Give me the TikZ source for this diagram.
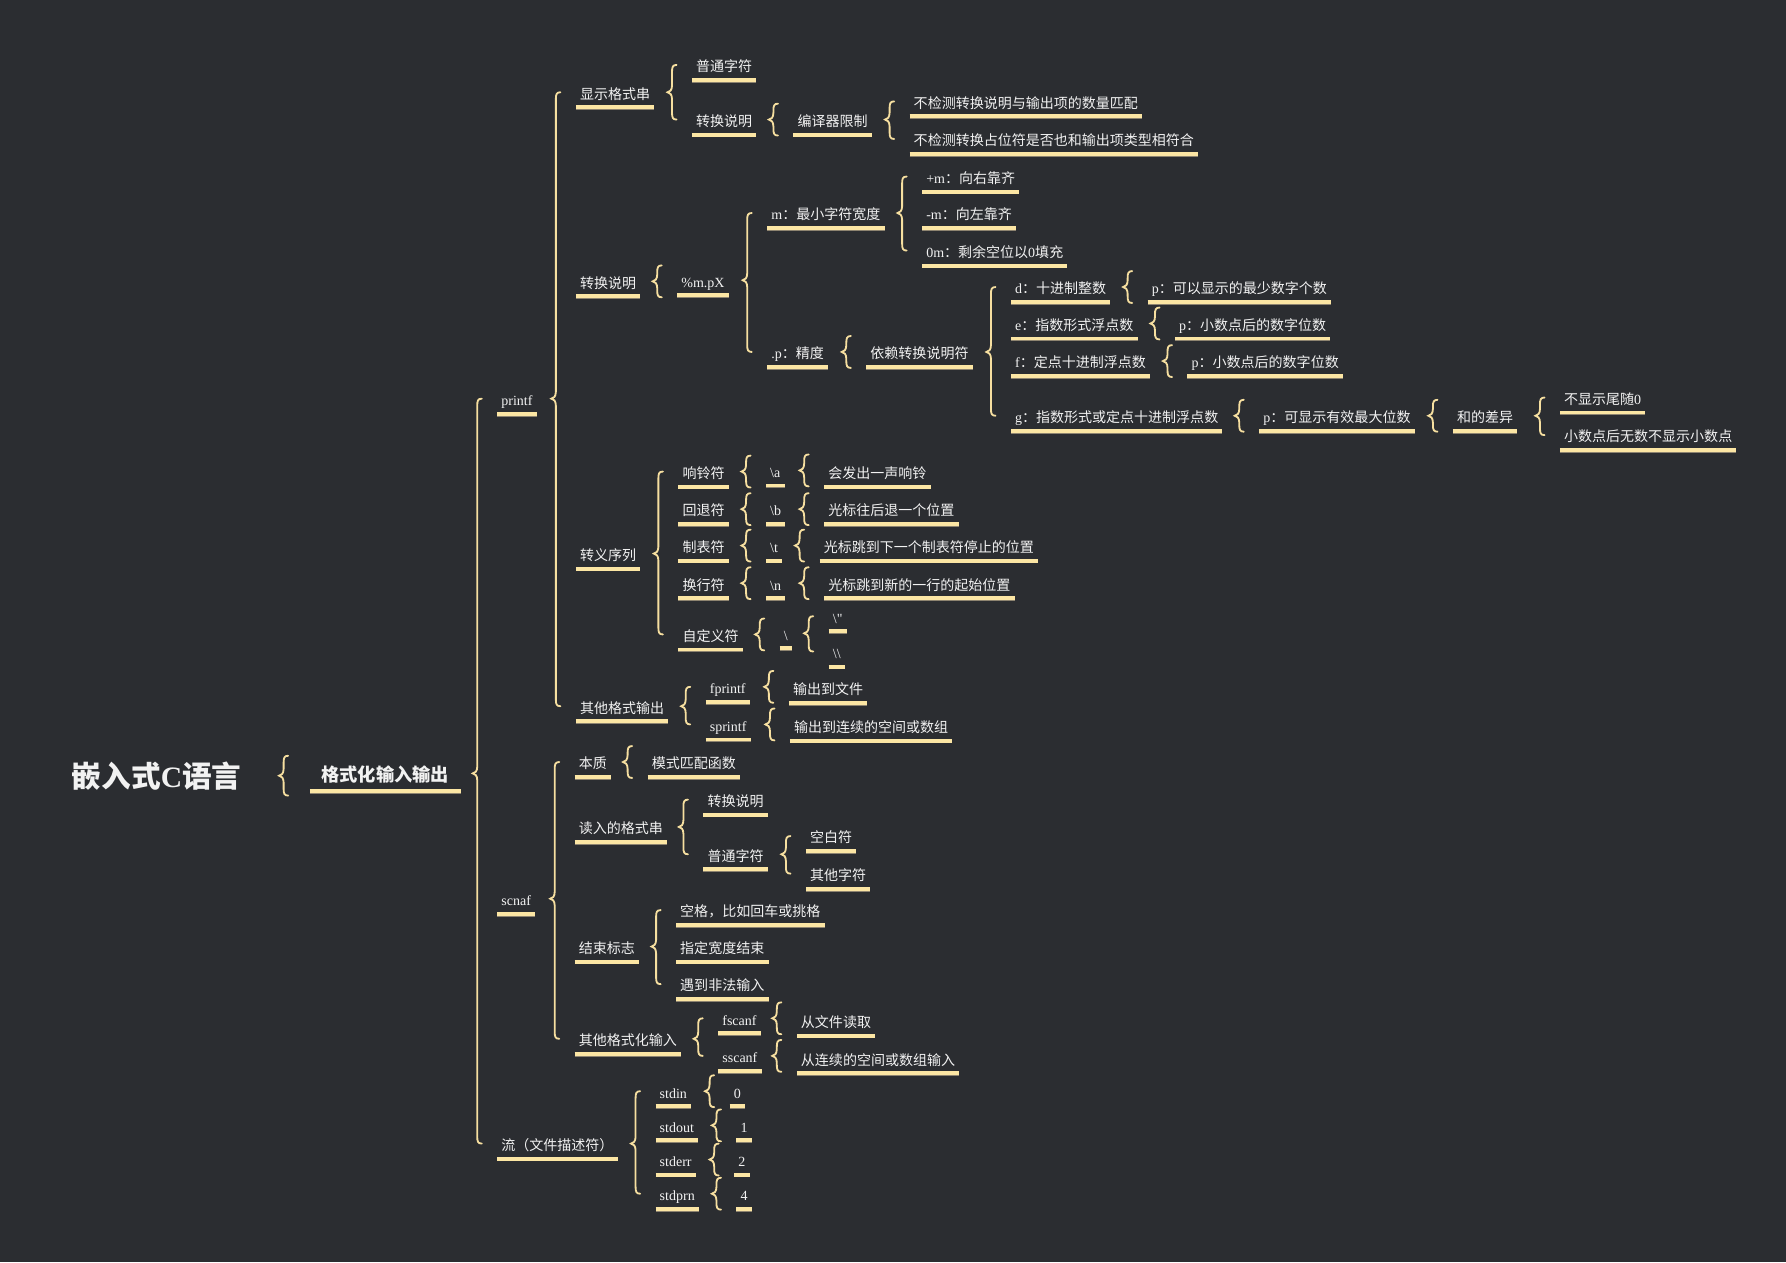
\documentclass[tikz,border=0pt]{standalone}
\usepackage{fontspec}
\setmainfont{Liberation Serif}[Ligatures=TeXOff]
\newfontfamily\cjk{Noto Sans CJK SC}
\newcommand\zh[1]{{\cjk #1}}
\usetikzlibrary{calc}
\definecolor{bgc}{HTML}{2B2D31}
\definecolor{txtc}{HTML}{F2F2F2}
\definecolor{ulc}{HTML}{FCE6A4}
\definecolor{ulsh}{HTML}{8E8470}
\definecolor{brcc}{HTML}{F6DFA0}
\tikzset{
 nd/.style={inner sep=0pt, text height=12pt, text depth=0pt, anchor=west, text=txtc, font=\fontsize{12.3}{14}\selectfont},
 uline/.style={draw=ulc, line width=3.4pt},
 ushadow/.style={draw=ulsh, line width=1pt},
 brace/.style={draw=brcc, line width=1.6pt, line cap=round},
}
\newcommand\ul[2][3.5pt]{%
 \draw[ushadow] ([xshift=-#1,yshift=-9pt]#2.south west) -- ([xshift=#1,yshift=-9pt]#2.south east);
 \draw[uline] ([xshift=-#1,yshift=-7pt]#2.south west) -- ([xshift=#1,yshift=-7pt]#2.south east);}
\newcommand\N[3]{\node[nd] (#1) at (#2) {#3}; \ul{#1}}
\newcommand\bpath[4]{(#1+8pt,#3) .. controls (#1+4.5pt,#3) and (#1+4pt,#3-2pt) .. (#1+4pt,#3-6pt) -- (#1+4pt,#2+6pt) .. controls (#1+4pt,#2+2pt) and (#1+2pt,#2) .. (#1,#2) .. controls (#1+2pt,#2) and (#1+4pt,#2-2pt) .. (#1+4pt,#2-6pt) -- (#1+4pt,#4+6pt) .. controls (#1+4pt,#4+2pt) and (#1+4.5pt,#4) .. (#1+8pt,#4)}
\newcommand\brc[4][25pt]{\draw[brace] let \p1=(#2.center), \p2=(#3.west), \p3=(#4.west), \p4=(\x2-#1,\y1) in \bpath{\x4}{\y1}{\y2}{\y3};}
\newcommand\brs[3][25pt]{\draw[brace] let \p1=(#2.center), \p2=(#3.west), \p4=(\x2-#1,\y1) in \bpath{\x4}{\y1}{\y1+14pt}{\y1-14pt};}
\newcommand\brsg[4]{\draw[brace] let \p1=(#2.center), \p2=(#3.west), \p4=(\x2-#1,\y1) in \bpath{\x4}{\y1}{\y1+#4}{\y1-#4};}
\begin{document}
\begin{tikzpicture}[x=1pt,y=-1pt]
\fill[bgc] (0,0) rectangle (1568,1108);
\useasboundingbox (0,0) rectangle (1568,1108);
% root
\node[anchor=west, inner sep=0pt, text=txtc, font=\fontsize{26}{30}\selectfont\bfseries] (r) at (63,681) {\zh{嵌入式}C\zh{语言}};
\node[nd, text height=15pt, text depth=1pt, font=\fontsize{16}{18}\selectfont\bfseries] (L1) at (282,679) {\zh{格式化输入输出}};
\ul[10pt]{L1}
\brsg{37pt}{r}{L1}{17.5pt}
% level 2
\N{pf}{440,350}{printf}
\N{sc}{440,789}{scnaf}
\N{st}{440,1004}{\zh{流（文件描述符）}}
\brc{L1}{pf}{st}
% printf
\N{a1}{509,81}{\zh{显示格式串}}
\N{a2}{509,247}{\zh{转换说明}}
\N{a3}{509,486}{\zh{转义序列}}
\N{a4}{509,620}{\zh{其他格式输出}}
\brc{pf}{a1}{a4}
% a1
\N{a11}{611,57}{\zh{普通字符}}
\N{a12}{611,105}{\zh{转换说明}}
\brc{a1}{a11}{a12}
\N{a121}{700,105}{\zh{编译器限制}}
\brs{a12}{a121}
\N{a1211}{802,89}{\zh{不检测转换说明与输出项的数量匹配}}
\N{a1212}{802,122}{\zh{不检测转换占位符是否也和输出项类型相符合}}
\brc{a121}{a1211}{a1212}
% a2
\N{b1}{598,246}{\%m.pX}
\brs{a2}{b1}
\N{b11}{677,187}{m\zh{：最小字符宽度}}
\N{b12}{677,309}{.p\zh{：精度}}
\brc{b1}{b11}{b12}
\N{c1}{813,155}{+m\zh{：向右靠齐}}
\N{c2}{813,187}{-m\zh{：向左靠齐}}
\N{c3}{813,220}{0m\zh{：剩余空位以}0\zh{填充}}
\brc{b11}{c1}{c3}
\N{d0}{764,309}{\zh{依赖转换说明符}}
\brs{b12}{d0}
\N{e1}{891,252}{d\zh{：十进制整数}}
\N{e2}{891,284}{e\zh{：指数形式浮点数}}
\N{e3}{891,317}{f\zh{：定点十进制浮点数}}
\N{e4}{891,365}{g\zh{：指数形式或定点十进制浮点数}}
\brc{d0}{e1}{e4}
\N{f1}{1011,252}{p\zh{：可以显示的最少数字个数}}
\brs{e1}{f1}
\N{f2}{1035,284}{p\zh{：小数点后的数字位数}}
\brs{e2}{f2}
\N{f3}{1046,317}{p\zh{：小数点后的数字位数}}
\brs{e3}{f3}
\N{f4}{1109,365}{p\zh{：可显示有效最大位数}}
\brs{e4}{f4}
\N{g1}{1279,365}{\zh{和的差异}}
\brs{f4}{g1}
\N{h1}{1373,349}{\zh{不显示尾随}0}
\N{h2}{1373,382}{\zh{小数点后无数不显示小数点}}
\brc{g1}{h1}{h2}
% a3
\N{k1}{599,414}{\zh{响铃符}}
\N{k2}{599,447}{\zh{回退符}}
\N{k3}{599,479}{\zh{制表符}}
\N{k4}{599,512}{\zh{换行符}}
\N{k5}{599,557}{\zh{自定义符}}
\brc{a3}{k1}{k5}
\N{m1}{676,413}{\textbackslash a}
\brs{k1}{m1}
\N{m2}{676,447}{\textbackslash b}
\brs{k2}{m2}
\N{m3}{676,479}{\textbackslash t}
\brs{k3}{m3}
\N{m4}{676,512}{\textbackslash n}
\brs{k4}{m4}
\N{m5}{688,556}{\textbackslash}
\brs{k5}{m5}
\N{n1}{727,414}{\zh{会发出一声响铃}}
\brs{m1}{n1}
\N{n2}{727,447}{\zh{光标往后退一个位置}}
\brs{m2}{n2}
\N{n3}{723,479}{\zh{光标跳到下一个制表符停止的位置}}
\brs{m3}{n3}
\N{n4}{727,512}{\zh{光标跳到新的一行的起始位置}}
\brs{m4}{n4}
\N{q1}{731,541}{\textbackslash"}
\N{q2}{731,572}{\textbackslash\textbackslash}
\brc{m5}{q1}{q2}
% a4
\N{s1}{623,603}{fprintf}
\N{s2}{623,636}{sprintf}
\brc{a4}{s1}{s2}
\N{t1}{696,604}{\zh{输出到文件}}
\brs{s1}{t1}
\N{t2}{697,637}{\zh{输出到连续的空间或数组}}
\brs{s2}{t2}
% scnaf
\N{u1}{508,669}{\zh{本质}}
\N{u2}{508,726}{\zh{读入的格式串}}
\N{u3}{508,831}{\zh{结束标志}}
\N{u4}{508,912}{\zh{其他格式化输入}}
\brc{sc}{u1}{u4}
\N{v1}{572,669}{\zh{模式匹配函数}}
\brs{u1}{v1}
\N{w1}{621,702}{\zh{转换说明}}
\N{w2}{621,750}{\zh{普通字符}}
\brc{u2}{w1}{w2}
\N{x1}{711,734}{\zh{空白符}}
\N{x2}{711,767}{\zh{其他字符}}
\brc{w2}{x1}{x2}
\N{y1}{597,799}{\zh{空格，比如回车或挑格}}
\N{y2}{597,831}{\zh{指定宽度结束}}
\N{y3}{597,864}{\zh{遇到非法输入}}
\brc{u3}{y1}{y3}
\N{z1}{634,894}{fscanf}
\N{z2}{634,927}{sscanf}
\brc{u4}{z1}{z2}
\N{zz1}{703,896}{\zh{从文件读取}}
\brs{z1}{zz1}
\N{zz2}{703,929}{\zh{从连续的空间或数组输入}}
\brs{z2}{zz2}
% streams
\N{o1}{579,958}{stdin}
\N{o2}{579,988}{stdout}
\N{o3}{579,1018}{stderr}
\N{o4}{579,1048}{stdprn}
\brc{st}{o1}{o4}
\N{p1}{644,958}{0}
\brs{o1}{p1}
\N{p2}{650,988}{1}
\brs{o2}{p2}
\N{p3}{648,1018}{2}
\brs{o3}{p3}
\N{p4}{650,1048}{4}
\brs{o4}{p4}
\end{tikzpicture}
\end{document}
